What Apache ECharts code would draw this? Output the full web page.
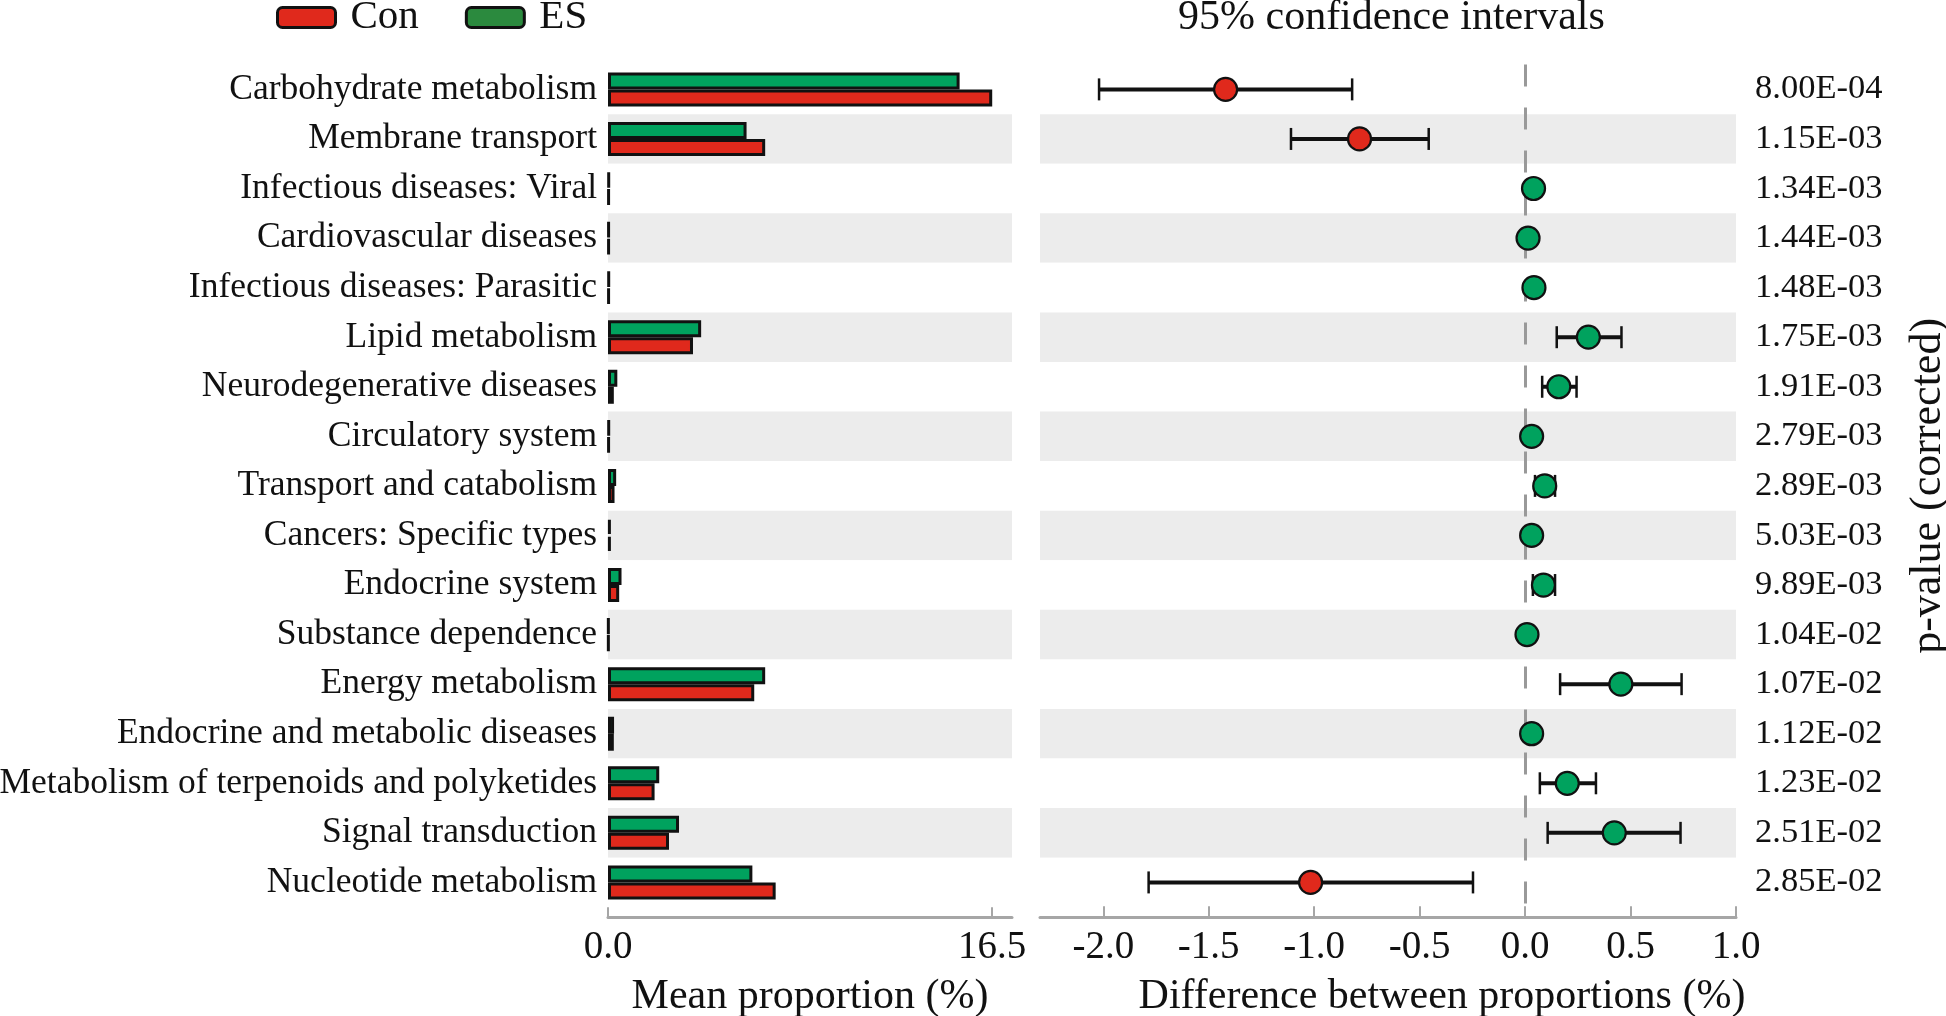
<!DOCTYPE html>
<html>
<head>
<meta charset="utf-8">
<script src="https://cdn.jsdelivr.net/npm/echarts@6/dist/echarts.min.js"></script>
<style>
html,body{margin:0;padding:0;background:#fff;}
#chart{width:1946px;height:1016px;}
</style>
</head>
<body>
<div id="chart"></div>
<script>
const categories = [
  'Carbohydrate metabolism','Membrane transport','Infectious diseases: Viral',
  'Cardiovascular diseases','Infectious diseases: Parasitic','Lipid metabolism',
  'Neurodegenerative diseases','Circulatory system','Transport and catabolism',
  'Cancers: Specific types','Endocrine system','Substance dependence',
  'Energy metabolism','Endocrine and metabolic diseases',
  'Metabolism of terpenoids and polyketides','Signal transduction','Nucleotide metabolism'
];
const conMean = [16.5, 6.75, 0.05, 0.05, 0.05, 3.65, 0.25, 0.05, 0.28, 0.12, 0.48, 0.03, 6.28, 0.25, 2.0, 2.62, 7.2];
const esMean  = [15.1, 5.95, 0.06, 0.05, 0.06, 4.0, 0.4, 0.06, 0.35, 0.12, 0.58, 0.03, 6.75, 0.26, 2.2, 3.05, 6.2];
const diffMean = [-1.42, -0.785, 0.04, 0.014, 0.042, 0.30, 0.16, 0.031, 0.093, 0.031, 0.087, 0.009, 0.454, 0.031, 0.20, 0.423, -1.017];
const ciLow    = [-2.02, -1.11, 0.03, 0.005, 0.03, 0.15, 0.081, 0.025, 0.047, 0.02, 0.037, 0.003, 0.166, 0.02, 0.07, 0.107, -1.785];
const ciHigh   = [-0.82, -0.457, 0.05, 0.02, 0.055, 0.457, 0.244, 0.04, 0.142, 0.04, 0.142, 0.015, 0.742, 0.04, 0.336, 0.737, -0.247];
const pValues = ['8.00E-04','1.15E-03','1.34E-03','1.44E-03','1.48E-03','1.75E-03','1.91E-03','2.79E-03','2.89E-03','5.03E-03','9.89E-03','1.04E-02','1.07E-02','1.12E-02','1.23E-02','2.51E-02','2.85E-02'];
const meanTicks = [0, 16.5];
const diffTicks = [-2.0, -1.5, -1.0, -0.5, 0.0, 0.5, 1.0];

const FONT = "'Liberation Serif', 'Times New Roman', serif";
const RED = '#e0291c';
const GREEN = '#00a25e';
const AXIS_GREY = '#a6a6a6';
const BAND = ['#ffffff', '#ececec'];

const chart = echarts.init(document.getElementById('chart'), null, {renderer: 'canvas'});

const ciData = categories.map((c, i) => [i, ciLow[i], ciHigh[i], diffMean[i]]);

const option = {
  animation: false,
  backgroundColor: '#ffffff',
  textStyle: {fontFamily: FONT, color: '#111'},
  title: {
    text: '95% confidence intervals',
    left: 1178, top: -3, padding: 0,
    textStyle: {fontFamily: FONT, fontSize: 42, fontWeight: 'normal', color: '#111'}
  },
  legend: {
    left: 276, top: -3, padding: 0,
    itemWidth: 58, itemHeight: 20, itemGap: 46,
    data: [
      {name: 'Con', itemStyle: {color: RED, borderColor: '#111', borderWidth: 3}},
      {name: 'ES', itemStyle: {color: '#2b8a3e', borderColor: '#111', borderWidth: 3}}
    ],
    textStyle: {fontFamily: FONT, fontSize: 41, color: '#111', padding: [4, 0, 0, 10]}
  },
  grid: [
    {left: 608, top: 64.6, width: 404, height: 842.6, outerBoundsMode: 'none', containLabel: false},
    {left: 1040, top: 64.6, width: 696, height: 842.6, outerBoundsMode: 'none', containLabel: false}
  ],
  xAxis: [
    {
      gridIndex: 0, type: 'value', min: 0, max: 17.35,
      offset: 10,
      axisLine: {show: true, lineStyle: {color: AXIS_GREY, width: 3}},
      axisTick: {show: true, inside: true, length: 10, customValues: meanTicks, lineStyle: {color: AXIS_GREY, width: 2}},
      axisLabel: {show: true, customValues: meanTicks, margin: 11, fontFamily: FONT, fontSize: 39, color: '#111',
        formatter: v => Number(v).toFixed(1)},
      splitLine: {show: false},
      name: 'Mean proportion (%)', nameLocation: 'middle', nameGap: 59,
      nameTextStyle: {fontFamily: FONT, fontSize: 42, color: '#111'}
    },
    {
      gridIndex: 1, type: 'value', min: -2.3, max: 1.0,
      offset: 10,
      axisLine: {show: true, lineStyle: {color: AXIS_GREY, width: 3}},
      axisTick: {show: true, inside: true, length: 11, customValues: diffTicks, lineStyle: {color: AXIS_GREY, width: 2}},
      axisLabel: {show: true, customValues: diffTicks, margin: 11, fontFamily: FONT, fontSize: 39, color: '#111',
        formatter: v => Number(v).toFixed(1)},
      splitLine: {show: false},
      name: 'Difference between proportions (%)', nameLocation: 'middle', nameGap: 59,
      nameTextStyle: {fontFamily: FONT, fontSize: 42, color: '#111', padding: [0, 0, 0, 108]}
    }
  ],
  yAxis: [
    {
      gridIndex: 0, type: 'category', data: categories, inverse: true,
      axisLine: {show: false}, axisTick: {show: false},
      axisLabel: {margin: 11, fontFamily: FONT, fontSize: 35.5, color: '#111', padding: [5, 0, 0, 0]},
      splitArea: {show: true, areaStyle: {color: BAND}},
      splitLine: {show: false}
    },
    {
      gridIndex: 1, type: 'category', data: pValues, inverse: true, position: 'right',
      axisLine: {show: false}, axisTick: {show: false},
      axisLabel: {margin: 19, fontFamily: FONT, fontSize: 34.5, color: '#111', padding: [5, 0, 0, 0]},
      splitArea: {show: true, areaStyle: {color: BAND}},
      splitLine: {show: false},
      name: 'p-value (corrected)', nameLocation: 'middle', nameGap: 170,
      nameTextStyle: {fontFamily: FONT, fontSize: 44, color: '#111'}
    }
  ],
  series: [
    {
      name: 'ES', type: 'bar', xAxisIndex: 0, yAxisIndex: 0,
      data: esMean, barWidth: 17, barGap: '0%',
      itemStyle: {color: GREEN, borderColor: '#111', borderWidth: 3}
    },
    {
      name: 'Con', type: 'bar', xAxisIndex: 0, yAxisIndex: 0,
      data: conMean, barWidth: 17, barGap: '0%',
      itemStyle: {color: RED, borderColor: '#111', borderWidth: 3}
    },
    {
      name: 'CI', type: 'custom', xAxisIndex: 1, yAxisIndex: 1,
      data: ciData,
      encode: {x: [1, 2, 3], y: 0},
      renderItem: function (params, api) {
        const row = api.value(0);
        const lo = api.coord([api.value(1), row]);
        const hi = api.coord([api.value(2), row]);
        const m = api.coord([api.value(3), row]);
        const col = api.value(3) < 0 ? RED : GREEN;
        return {
          type: 'group',
          children: [
            {type: 'line', shape: {x1: lo[0], y1: lo[1], x2: hi[0], y2: hi[1]}, style: {stroke: '#111', lineWidth: 4}},
            {type: 'line', shape: {x1: lo[0], y1: lo[1] - 11, x2: lo[0], y2: lo[1] + 11}, style: {stroke: '#111', lineWidth: 2.5}},
            {type: 'line', shape: {x1: hi[0], y1: hi[1] - 11, x2: hi[0], y2: hi[1] + 11}, style: {stroke: '#111', lineWidth: 2.5}},
            {type: 'circle', shape: {cx: m[0], cy: m[1], r: 11.5}, style: {fill: col, stroke: '#111', lineWidth: 2.2}}
          ]
        };
      },
      markLine: {
        silent: true, symbol: 'none', label: {show: false},
        lineStyle: {color: '#999999', width: 3, type: [22, 21]},
        data: [{xAxis: 0}]
      },
      z: 5
    }
  ]
};
chart.setOption(option);
</script>
</body>
</html>
